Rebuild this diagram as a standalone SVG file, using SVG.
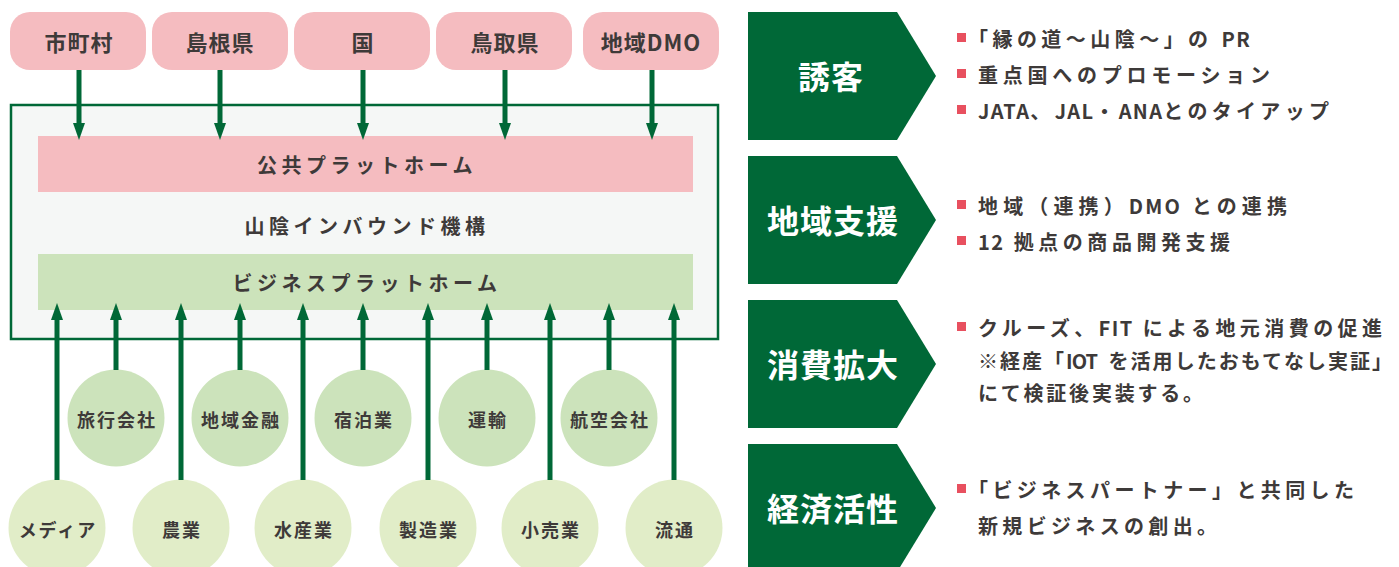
<svg xmlns="http://www.w3.org/2000/svg" width="1399" height="567" viewBox="0 0 1399 567">
<defs>
<style>
text{font-family:"Noto Sans CJK JP","Noto Sans",sans-serif;font-weight:700;fill:#3e3a39}
.pill{fill:#f5bcc0}
.pt{font-size:22px;letter-spacing:1px;text-anchor:middle;dominant-baseline:central}
.band{font-size:20px;letter-spacing:4.5px;text-anchor:middle;dominant-baseline:central}
.c1{fill:#cce3bb}
.c2{fill:#e1edc8}
.ct{font-size:18px;letter-spacing:2px;text-anchor:middle;dominant-baseline:central}
.chev{fill:#006837}
.cht{font-size:32px;fill:#ffffff;text-anchor:middle;dominant-baseline:central;letter-spacing:1px}
.bt{font-size:20px;letter-spacing:0px;dominant-baseline:central}
.lat{letter-spacing:-3px}
.bul{fill:#e8505f}
.arr{stroke:#006837;stroke-width:5;fill:none;marker-end:url(#ah)}
</style>
<marker id="ah" viewBox="0 0 17 12" markerWidth="17" markerHeight="12" refX="5" refY="6" orient="auto" markerUnits="userSpaceOnUse">
<path d="M0,0 L17,6 L0,12 Z" fill="#006837"/>
</marker>
</defs>
<rect width="1399" height="567" fill="#ffffff"/>

<g id="sources-top">
<g id="n-shichoson"><rect class="pill" x="10" y="12" width="136" height="58" rx="20"/><text class="pt" x="79" y="41">市町村</text></g>
<g id="n-shimane"><rect class="pill" x="152" y="12" width="136" height="58" rx="20"/><text class="pt" x="220" y="41">島根県</text></g>
<g id="n-kuni"><rect class="pill" x="294" y="12" width="136" height="58" rx="20"/><text class="pt" x="363" y="41">国</text></g>
<g id="n-tottori"><rect class="pill" x="436" y="12" width="136" height="58" rx="20"/><text class="pt" x="505" y="41">鳥取県</text></g>
<g id="n-dmo"><rect class="pill" x="583" y="12" width="136" height="58" rx="20"/><text class="pt" x="651" y="41">地域DMO</text></g>
</g>

<g id="n-organization">
<rect x="11" y="105" width="707" height="234" fill="#f5f7f6" stroke="#006837" stroke-width="2.5"/>
<g id="n-public-platform"><rect x="38" y="136" width="655" height="56" fill="#f5bcc0"/><text class="band" x="367" y="164">公共プラットホーム</text></g>
<text class="band" x="367" y="225">山陰インバウンド機構</text>
<g id="n-business-platform"><rect x="38" y="254" width="655" height="56" fill="#cce3bb"/><text class="band" x="367" y="282">ビジネスプラットホーム</text></g>
</g>

<g id="sources-upper">
<g id="n-ryoko"><circle class="c1" cx="116" cy="418" r="48.5"/><text class="ct" x="117" y="419">旅行会社</text></g>
<g id="n-kinyu"><circle class="c1" cx="240" cy="418" r="48.5"/><text class="ct" x="241" y="419">地域金融</text></g>
<g id="n-shukuhaku"><circle class="c1" cx="363" cy="418" r="48.5"/><text class="ct" x="364" y="419">宿泊業</text></g>
<g id="n-unyu"><circle class="c1" cx="487" cy="418" r="48.5"/><text class="ct" x="488" y="419">運輸</text></g>
<g id="n-koku"><circle class="c1" cx="609" cy="418" r="48.5"/><text class="ct" x="610" y="419">航空会社</text></g>
</g>

<g id="sources-lower">
<g id="n-media"><circle class="c2" cx="57" cy="528" r="48.5"/><text class="ct" x="58" y="529">メディア</text></g>
<g id="n-nogyo"><circle class="c2" cx="181" cy="528" r="48.5"/><text class="ct" x="182" y="529">農業</text></g>
<g id="n-suisan"><circle class="c2" cx="303" cy="528" r="48.5"/><text class="ct" x="304" y="529">水産業</text></g>
<g id="n-seizo"><circle class="c2" cx="428" cy="528" r="48.5"/><text class="ct" x="429" y="529">製造業</text></g>
<g id="n-kouri"><circle class="c2" cx="550" cy="528" r="48.5"/><text class="ct" x="551" y="529">小売業</text></g>
<g id="n-ryutsu"><circle class="c2" cx="674" cy="528" r="48.5"/><text class="ct" x="675" y="529">流通</text></g>
</g>

<g id="connectors">
<line class="arr" x1="79" y1="70" x2="79" y2="128"/>
<line class="arr" x1="220" y1="70" x2="220" y2="128"/>
<line class="arr" x1="363" y1="70" x2="363" y2="128"/>
<line class="arr" x1="505" y1="70" x2="505" y2="128"/>
<line class="arr" x1="652" y1="70" x2="652" y2="128"/>

<line class="arr" x1="57" y1="480" x2="57" y2="315"/>
<line class="arr" x1="116" y1="370" x2="116" y2="315"/>
<line class="arr" x1="181" y1="480" x2="181" y2="315"/>
<line class="arr" x1="240" y1="370" x2="240" y2="315"/>
<line class="arr" x1="303" y1="480" x2="303" y2="315"/>
<line class="arr" x1="363" y1="370" x2="363" y2="315"/>
<line class="arr" x1="428" y1="480" x2="428" y2="315"/>
<line class="arr" x1="487" y1="370" x2="487" y2="315"/>
<line class="arr" x1="550" y1="480" x2="550" y2="315"/>
<line class="arr" x1="609" y1="370" x2="609" y2="315"/>
<line class="arr" x1="674" y1="480" x2="674" y2="315"/>
</g>

<g id="n-yukyaku">
<path class="chev" d="M748,12 H897 L936,76 L897,140 H748 Z"/>
<text class="cht" x="831" y="75">誘客</text>
<rect class="bul" x="957" y="33" width="9" height="9"/>
<text class="bt" x="968" y="38" textLength="279" lengthAdjust="spacing">「縁の道～山陰～」の <tspan class="lat">PR</tspan></text>
<rect class="bul" x="957" y="69" width="9" height="9"/>
<text class="bt" x="978" y="74" textLength="292" lengthAdjust="spacing">重点国へのプロモーション</text>
<rect class="bul" x="957" y="105" width="9" height="9"/>
<text class="bt" x="978" y="110" textLength="351" lengthAdjust="spacing"><tspan class="lat">JATA</tspan>、<tspan class="lat">JAL</tspan>・<tspan class="lat">ANA</tspan>とのタイアップ</text>
</g>

<g id="n-chiiki">
<path class="chev" d="M748,156 H897 L936,220 L897,284 H748 Z"/>
<text class="cht" x="833" y="219">地域支援</text>
<rect class="bul" x="957" y="200" width="9" height="9"/>
<text class="bt" x="978" y="205" textLength="309" lengthAdjust="spacing">地域（連携）<tspan class="lat">DMO</tspan> との連携</text>
<rect class="bul" x="957" y="236" width="9" height="9"/>
<text class="bt" x="978" y="241" textLength="252" lengthAdjust="spacing"><tspan class="lat">12</tspan> 拠点の商品開発支援</text>
</g>

<g id="n-shohi">
<path class="chev" d="M748,300 H897 L936,364 L897,428 H748 Z"/>
<text class="cht" x="833" y="363">消費拡大</text>
<rect class="bul" x="957" y="322" width="9" height="9"/>
<text class="bt" x="978" y="327" textLength="404" lengthAdjust="spacing">クルーズ、<tspan class="lat">FIT</tspan> による地元消費の促進</text>
<text class="bt" x="978" y="360" textLength="414" lengthAdjust="spacing">※経産「<tspan class="lat">IOT</tspan> <tspan dx="5">を</tspan>活用したおもてなし実証」</text>
<text class="bt" x="978" y="392" textLength="225" lengthAdjust="spacing">にて検証後実装する。</text>
</g>

<g id="n-keizai">
<path class="chev" d="M748,444 H897 L936,508 L897,572 H748 Z"/>
<text class="cht" x="833" y="507">経済活性</text>
<rect class="bul" x="957" y="484" width="9" height="9"/>
<text class="bt" x="968" y="489" textLength="386" lengthAdjust="spacing">「ビジネスパートナー」と共同した</text>
<text class="bt" x="978" y="525" textLength="239" lengthAdjust="spacing">新規ビジネスの創出。</text>
</g>
</svg>
